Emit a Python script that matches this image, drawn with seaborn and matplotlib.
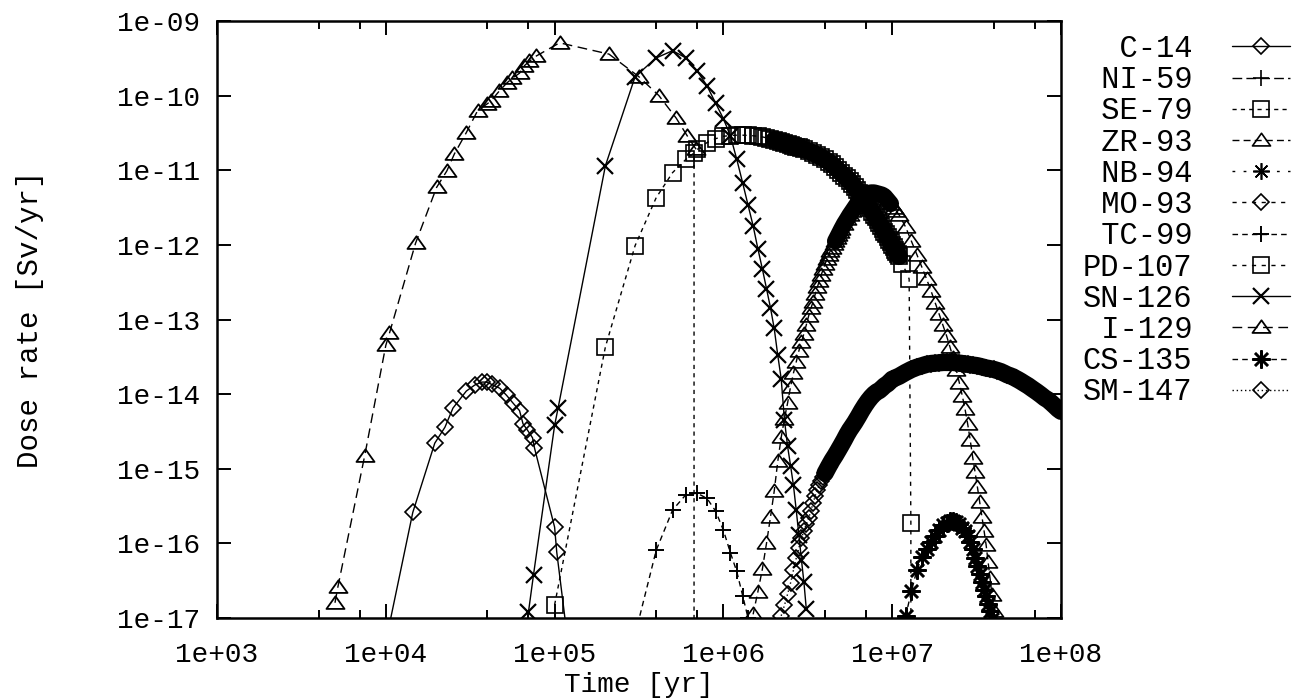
import matplotlib
matplotlib.use("Agg")
import matplotlib.pyplot as plt
import seaborn as sns
from matplotlib.lines import Line2D
from matplotlib.path import Path
from matplotlib.ticker import LogLocator, FuncFormatter, NullLocator, NullFormatter

# ---------------- data ----------------
names = ["C-14", "NI-59", "SE-79", "ZR-93", "NB-94", "MO-93",
         "TC-99", "PD-107", "SN-126", "I-129", "CS-135", "SM-147"]

c14_t = [1.0e4, 1.445e4, 1.95e4, 2.24e4, 2.5e4, 3.0e4, 3.36e4, 3.7e4, 3.96e4, 4.24e4,
         4.73e4, 5.2e4, 5.64e4, 6.2e4, 6.5e4, 6.9e4, 7.4e4, 7.6e4, 1.0e5, 1.03e5, 1.2e5]
c14_d = [4.8e-18, 2.6e-16, 2.2e-15, 3.6e-15, 6.5e-15, 1.1e-14, 1.32e-14, 1.45e-14, 1.45e-14, 1.35e-14,
         1.2e-14, 9.6e-15, 7.7e-15, 6.0e-15, 4.0e-15, 3.3e-15, 2.6e-15, 1.9e-15, 1.65e-16, 7.6e-17, 4.7e-18]

i129_t = [5.0e3, 5.2e3, 7.5e3, 1.0e4, 1.05e4, 1.5e4, 2.0e4, 2.3e4, 2.55e4, 3.0e4, 3.5e4, 4.0e4,
          4.2e4, 4.7e4, 5.2e4, 5.6e4, 6.2e4, 6.6e4, 7.1e4, 7.8e4, 1.07e5, 2.1e5, 3.15e5, 4.15e5,
          5.25e5, 6.1e5, 6.9e5]
i129_d = [1.6e-17, 2.6e-17, 1.5e-15, 4.5e-14, 6.5e-14, 1.05e-12, 5.9e-12, 9.8e-12, 1.66e-11, 3.2e-11,
          6.3e-11, 7.8e-11, 8.5e-11, 1.15e-10, 1.47e-10, 1.7e-10, 2.0e-10, 2.5e-10, 2.9e-10, 3.4e-10,
          5.1e-10, 3.6e-10, 1.8e-10, 1.0e-10, 5.0e-11, 2.9e-11, 1.9e-11]

sn126_t = [7.0e4, 7.5e4, 1.0e5, 1.05e5, 2.0e5, 3.0e5, 4.0e5, 5.0e5, 6.0e5, 7.0e5, 8.0e5, 9.0e5,
           1.0e6, 1.1e6, 1.2e6, 1.3e6, 1.4e6, 1.5e6, 1.6e6, 1.7e6, 1.8e6, 1.9e6, 2.0e6, 2.1e6,
           2.2e6, 2.3e6, 2.4e6, 2.5e6, 2.6e6, 2.7e6, 2.8e6, 2.9e6, 3.0e6, 3.1e6]
sn126_d = [1.2e-17, 3.8e-17, 3.8e-15, 6.6e-15, 1.15e-11, 1.8e-10, 3.2e-10, 4.0e-10, 3.2e-10, 2.14e-10,
           1.35e-10, 7.9e-11, 4.9e-11, 2.9e-11, 1.4e-11, 6.8e-12, 3.4e-12, 1.8e-12, 8.9e-13, 4.8e-13,
           2.6e-13, 1.44e-13, 7.6e-14, 3.3e-14, 1.6e-14, 4.5e-15, 2.0e-15, 1.1e-15, 6.0e-16, 2.8e-16,
           1.3e-16, 6.0e-17, 3.0e-17, 1.3e-17]

se79_t = [1.0e5, 2.0e5, 3.0e5, 4.0e5, 5.0e5, 6.0e5, 6.7e5, 6.7e5]
se79_d = [1.5e-17, 4.3e-14, 9.8e-13, 4.3e-12, 9.3e-12, 1.4e-11, 1.7e-11, 1.0e-19]

tc99_t = [3.0e5, 4.0e5, 5.0e5, 6.0e5, 7.0e5, 8.0e5, 9.0e5, 1.0e6, 1.1e6, 1.2e6, 1.3e6, 1.4e6]
tc99_d = [6.0e-18, 8.1e-17, 2.8e-16, 4.5e-16, 4.7e-16, 4.0e-16, 2.7e-16, 1.5e-16, 7.5e-17, 4.2e-17,
          2.0e-17, 1.0e-17]

pd107_t = [7.0e5, 8.0e5, 9.0e5,
           1.0e6, 1.1e6, 1.2e6, 1.3e6, 1.4e6, 1.5e6, 1.6e6, 1.7e6, 1.8e6, 1.9e6, 2.0e6,
           2.1e6, 2.2e6, 2.3e6, 2.4e6, 2.5e6, 2.6e6, 2.7e6, 2.8e6, 2.9e6, 3.0e6,
           3.2e6, 3.4e6, 3.6e6, 3.8e6, 4.0e6, 4.2e6, 4.4e6, 4.6e6, 4.8e6, 5.0e6,
           5.2e6, 5.4e6, 5.6e6, 5.8e6, 6.0e6, 6.2e6, 6.4e6, 6.6e6, 6.8e6, 7.0e6,
           7.2e6, 7.4e6, 7.6e6, 7.8e6, 8.0e6, 8.2e6, 8.4e6, 8.6e6, 8.8e6, 9.0e6,
           9.2e6, 9.4e6, 9.6e6, 9.8e6, 1.0e7,
           1.02e7, 1.04e7, 1.06e7, 1.08e7, 1.1e7, 1.15e7, 1.26e7, 1.29e7, 1.29e7]
pd107_d = [1.9e-11, 2.35e-11, 2.65e-11,
           2.85e-11, 2.92e-11, 2.95e-11, 2.95e-11, 2.93e-11, 2.9e-11, 2.85e-11, 2.8e-11, 2.72e-11,
           2.64e-11, 2.56e-11, 2.48e-11, 2.4e-11, 2.33e-11, 2.26e-11, 2.2e-11, 2.14e-11, 2.08e-11,
           2.02e-11, 1.96e-11, 1.9e-11,
           1.8e-11, 1.7e-11, 1.6e-11, 1.5e-11, 1.4e-11, 1.3e-11, 1.2e-11, 1.1e-11, 1.0e-11, 9.2e-12,
           8.4e-12, 7.8e-12, 7.2e-12, 6.5e-12, 5.9e-12, 5.4e-12, 4.9e-12, 4.4e-12, 4.0e-12, 3.7e-12,
           3.4e-12, 3.1e-12, 2.8e-12, 2.55e-12, 2.35e-12, 2.15e-12, 1.95e-12, 1.8e-12, 1.65e-12,
           1.5e-12, 1.38e-12, 1.27e-12, 1.17e-12, 1.08e-12, 1.0e-12,
           9.3e-13, 8.6e-13, 8.0e-13, 7.5e-13, 7.0e-13, 5.6e-13, 3.5e-13, 1.9e-16, 1.0e-19]

zr93_t = [1.5e6, 1.6e6, 1.7e6, 1.8e6, 1.9e6, 2.0e6, 2.1e6, 2.2e6, 2.3e6, 2.4e6, 2.5e6, 2.6e6,
          2.7e6, 2.8e6, 2.9e6, 3.0e6, 3.1e6, 3.2e6, 3.3e6, 3.4e6, 3.5e6, 3.6e6, 3.7e6, 3.8e6,
          3.9e6, 4.0e6, 4.1e6, 4.2e6, 4.3e6, 4.4e6, 4.5e6, 4.6e6, 4.7e6, 4.8e6, 4.9e6, 5.0e6,
          5.2e6, 5.4e6, 5.6e6, 5.8e6, 6.0e6, 6.3e6, 6.6e6, 6.9e6, 7.2e6, 7.5e6, 7.8e6, 8.1e6,
          8.4e6, 8.7e6, 9.0e6, 9.4e6, 9.8e6, 1.02e7, 1.06e7, 1.1e7,
          1.2e7, 1.3e7, 1.4e7, 1.5e7, 1.6e7, 1.7e7, 1.8e7, 1.9e7, 2.0e7, 2.1e7, 2.2e7, 2.3e7,
          2.4e7, 2.5e7, 2.6e7, 2.7e7, 2.8e7, 2.9e7, 3.0e7, 3.1e7, 3.2e7, 3.3e7, 3.4e7, 3.5e7,
          3.6e7, 3.7e7, 3.8e7, 3.9e7, 4.0e7, 4.1e7]
zr93_d = [1.12e-17, 2.24e-17, 4.47e-17, 1.0e-16, 2.24e-16, 5.01e-16, 1.26e-15, 2.63e-15, 4.68e-15,
          7.59e-15, 1.26e-14, 1.91e-14, 2.69e-14, 3.80e-14, 5.01e-14, 6.46e-14, 8.51e-14, 1.12e-13,
          1.41e-13, 1.74e-13, 2.19e-13, 2.69e-13, 3.31e-13, 3.98e-13, 4.68e-13, 5.50e-13, 6.46e-13,
          7.41e-13, 8.32e-13, 9.12e-13, 1.02e-12, 1.12e-12, 1.23e-12, 1.35e-12, 1.48e-12, 1.62e-12,
          1.91e-12, 2.19e-12, 2.51e-12, 2.82e-12, 3.16e-12, 3.72e-12, 4.17e-12, 4.57e-12, 4.90e-12,
          5.01e-12, 5.01e-12, 4.90e-12, 4.79e-12, 4.68e-12, 4.47e-12, 3.98e-12, 3.55e-12, 3.16e-12,
          2.82e-12, 2.51e-12,
          1.74e-12, 1.12e-12, 7.41e-13, 5.01e-13, 3.47e-13, 2.40e-13, 1.66e-13, 1.17e-13, 8.32e-14,
          6.03e-14, 4.27e-14, 3.02e-14, 2.09e-14, 1.41e-14, 9.55e-15, 6.31e-15, 3.98e-15, 2.40e-15,
          1.41e-15, 8.91e-16, 5.62e-16, 3.55e-16, 2.29e-16, 1.48e-16, 9.55e-17, 5.62e-17, 3.39e-17,
          2.04e-17, 1.26e-17, 7.94e-18]

sm147_t = [2.2e6, 2.3e6, 2.4e6, 2.5e6, 2.6e6, 2.7e6, 2.8e6, 2.9e6, 3.0e6, 3.1e6, 3.2e6, 3.3e6,
           3.4e6, 3.5e6, 3.6e6, 3.7e6, 3.8e6, 3.9e6, 4.0e6,
           4.2e6, 4.4e6, 4.6e6, 4.8e6, 5.0e6, 5.2e6, 5.4e6, 5.6e6, 5.8e6, 6.0e6,
           6.3e6, 6.6e6, 6.9e6, 7.2e6, 7.5e6, 7.8e6, 8.1e6, 8.4e6, 8.7e6, 9.0e6, 9.4e6, 9.8e6,
           1.0e7, 1.1e7, 1.2e7, 1.3e7, 1.4e7, 1.5e7, 1.6e7, 1.7e7, 1.8e7, 1.9e7, 2.0e7, 2.1e7,
           2.2e7, 2.3e7, 2.4e7, 2.5e7, 2.6e7, 2.7e7, 2.8e7, 2.9e7, 3.0e7,
           3.2e7, 3.4e7, 3.6e7, 3.8e7, 4.0e7, 4.2e7, 4.4e7, 4.6e7, 4.8e7, 5.0e7, 5.2e7, 5.4e7,
           5.6e7, 5.8e7, 6.0e7,
           6.4e7, 6.8e7, 7.2e7, 7.6e7, 8.0e7, 8.4e7, 8.8e7, 9.2e7, 9.6e7, 1.0e8]
sm147_d = [1.07e-17, 1.48e-17, 2.09e-17, 2.95e-17, 4.37e-17, 6.31e-17, 8.71e-17, 1.17e-16, 1.48e-16,
           1.82e-16, 2.19e-16, 2.75e-16, 3.47e-16, 4.37e-16, 5.25e-16, 6.03e-16, 6.92e-16, 7.76e-16,
           8.71e-16,
           1.07e-15, 1.29e-15, 1.51e-15, 1.78e-15, 2.09e-15, 2.45e-15, 2.88e-15, 3.31e-15, 3.72e-15,
           4.17e-15,
           5.01e-15, 6.03e-15, 7.08e-15, 8.13e-15, 9.12e-15, 1.0e-14, 1.07e-14, 1.12e-14, 1.2e-14,
           1.29e-14, 1.38e-14, 1.51e-14,
           1.58e-14, 1.74e-14, 1.95e-14, 2.14e-14, 2.29e-14, 2.40e-14, 2.51e-14, 2.57e-14, 2.60e-14,
           2.63e-14, 2.66e-14, 2.66e-14, 2.66e-14, 2.66e-14, 2.63e-14, 2.60e-14, 2.57e-14, 2.54e-14,
           2.51e-14, 2.48e-14, 2.45e-14,
           2.40e-14, 2.32e-14, 2.24e-14, 2.19e-14, 2.14e-14, 2.07e-14, 2.0e-14, 1.91e-14, 1.82e-14,
           1.76e-14, 1.70e-14, 1.62e-14, 1.55e-14, 1.48e-14, 1.41e-14,
           1.29e-14, 1.17e-14, 1.07e-14, 9.77e-15, 8.91e-15, 8.32e-15, 7.59e-15, 6.92e-15, 6.31e-15,
           5.89e-15]

cs135_t = [1.2e7, 1.3e7, 1.4e7, 1.5e7, 1.6e7, 1.7e7, 1.8e7, 1.9e7, 2.0e7, 2.1e7, 2.2e7, 2.3e7,
           2.4e7, 2.5e7, 2.6e7, 2.7e7, 2.8e7, 2.9e7, 3.0e7, 3.1e7, 3.2e7, 3.3e7, 3.4e7, 3.5e7,
           3.6e7, 3.7e7, 3.8e7, 3.9e7]
cs135_d = [1.05e-17, 2.29e-17, 4.37e-17, 6.61e-17, 8.51e-17, 1.05e-16, 1.26e-16, 1.51e-16, 1.74e-16,
           1.86e-16, 1.97e-16, 2.0e-16, 1.93e-16, 1.80e-16, 1.62e-16, 1.45e-16, 1.26e-16, 1.05e-16,
           8.32e-17, 6.46e-17, 5.01e-17, 3.89e-17, 3.02e-17, 2.40e-17, 1.95e-17, 1.55e-17, 1.23e-17,
           9.77e-18]

x_ticks = [1e3, 1e4, 1e5, 1e6, 1e7, 1e8]
y_ticks = [1e-17, 1e-16, 1e-15, 1e-14, 1e-13, 1e-12, 1e-11, 1e-10, 1e-9]

series = {
    "C-14": (c14_t, c14_d), "SE-79": (se79_t, se79_d), "ZR-93": (zr93_t, zr93_d),
    "TC-99": (tc99_t, tc99_d), "PD-107": (pd107_t, pd107_d), "SN-126": (sn126_t, sn126_d),
    "I-129": (i129_t, i129_d), "CS-135": (cs135_t, cs135_d), "SM-147": (sm147_t, sm147_d),
}

# ---------------- style ----------------
sns.set_theme(style="ticks")
plt.rcParams.update({
    "text.color": "black", "axes.labelcolor": "black",
    "xtick.color": "black", "ytick.color": "black",
    "axes.edgecolor": "black", "figure.facecolor": "white", "axes.facecolor": "white",
})
plt.rcParams["font.family"] = ["Liberation Mono", "DejaVu Sans Mono"]

TRI = Path([(0, 0.8), (-1, -0.6), (1, -0.6), (0, 0.8)],
           [Path.MOVETO, Path.LINETO, Path.LINETO, Path.CLOSEPOLY])
AST = (8, 2, 0)

styles = {
    "C-14":   dict(marker="D", ms=8.5, mew=1.2, ls="-", lw=1.0),
    "NI-59":  dict(marker="+", ms=11, mew=1.2, ls=(0, (7, 3)), lw=1.0),
    "SE-79":  dict(marker="s", ms=11, mew=1.2, ls=(0, (3, 3)), lw=1.0),
    "ZR-93":  dict(marker=TRI, ms=13, mew=1.2, ls=(0, (5, 3)), lw=1.0),
    "NB-94":  dict(marker=AST, ms=12, mew=1.2, ls=(0, (2, 6)), lw=1.0),
    "MO-93":  dict(marker="D", ms=8.5, mew=1.2, ls=(0, (3, 4)), lw=1.0),
    "TC-99":  dict(marker="+", ms=11, mew=1.4, ls=(0, (4, 3)), lw=1.0),
    "PD-107": dict(marker="s", ms=11, mew=1.2, ls=(0, (3, 4)), lw=1.0),
    "SN-126": dict(marker="x", ms=11, mew=1.6, ls="-", lw=1.0),
    "I-129":  dict(marker=TRI, ms=13, mew=1.3, ls=(0, (7, 4)), lw=1.0),
    "CS-135": dict(marker=AST, ms=13, mew=1.8, ls=(0, (4, 3)), lw=1.0),
    "SM-147": dict(marker="D", ms=8.5, mew=1.2, ls=(0, (1, 2)), lw=1.0),
}
# where overlapping markers merge into a solid black band (time ranges, band width in pt)
bands = {
    "PD-107": (2.0e6, 1.1e7, 12.5),
    "ZR-93": (4.6e6, 9.8e6, 12.0),
    "SM-147": (4.0e6, 1.0e8, 12.5),
}

fig = plt.figure(figsize=(12.92, 6.99), dpi=100)
L, R, T, B = 217, 1061, 21, 618
ax = fig.add_axes([L / 1292, 1 - B / 699, (R - L) / 1292, (B - T) / 699])
ax.set_xscale("log")
ax.set_yscale("log")

for name in names:
    if name not in series:
        continue
    t, d = series[name]
    st = styles[name]
    sns.lineplot(x=t, y=d, ax=ax, estimator=None, sort=False, errorbar=None,
                 color="black", marker=st["marker"], markersize=st["ms"],
                 markerfacecolor="none", markeredgecolor="black",
                 markeredgewidth=st["mew"], linestyle=st["ls"], linewidth=st["lw"],
                 legend=False)
    if name in bands:
        lo, hi, w = bands[name]
        bt = [a for a, b in zip(t, d) if lo <= a <= hi]
        bd = [b for a, b in zip(t, d) if lo <= a <= hi]
        sns.lineplot(x=bt, y=bd, ax=ax, estimator=None, sort=False, errorbar=None,
                     color="black", linewidth=w, solid_capstyle="round",
                     solid_joinstyle="round", legend=False)

ax.set_xlim(1e3, 1e8)
ax.set_ylim(1e-17, 1e-9)
ax.set_xticks(x_ticks)
ax.set_yticks(y_ticks)
ax.xaxis.set_minor_locator(LogLocator(base=10, subs=(4.0, 7.0), numticks=20))
ax.xaxis.set_minor_formatter(NullFormatter())
ax.yaxis.set_minor_locator(NullLocator())
fmt = FuncFormatter(lambda v, p: f"{v:.0e}")
ax.xaxis.set_major_formatter(fmt)
ax.yaxis.set_major_formatter(fmt)

ax.tick_params(axis="both", which="major", direction="in", length=10, width=1.4,
               top=True, right=True, bottom=True, left=True, labelsize=20)
ax.tick_params(axis="both", which="minor", direction="in", length=5.5, width=1.4,
               top=True, right=True, bottom=True, left=True)
ax.tick_params(axis="x", which="major", pad=17)
ax.tick_params(axis="y", which="major", pad=12)
for s in ax.spines.values():
    s.set_visible(True)
    s.set_linewidth(1.8)
    s.set_color("black")

ax.set_xlabel("Time [yr]", fontsize=20)
ax.set_ylabel("Dose rate [Sv/yr]", fontsize=21)
ax.xaxis.set_label_coords(0.5, -0.09)
ax.yaxis.set_label_coords(-0.205, 0.5)

handles = []
for name in names:
    st = styles[name]
    handles.append(Line2D([], [], color="black", marker=st["marker"], markersize=st["ms"],
                          markerfacecolor="none", markeredgecolor="black",
                          markeredgewidth=st["mew"], linestyle=st["ls"], linewidth=st["lw"]))
labels = [f"{n:>6}" for n in names]
fig.legend(handles, labels, loc="upper right", bbox_to_anchor=(1290 / 1292, 1 - 34 / 699),
           bbox_transform=fig.transFigure, frameon=False, markerfirst=False, numpoints=1,
           handlelength=1.9, handletextpad=1.3, labelspacing=0.04, borderpad=0,
           borderaxespad=0, prop={"family": "Liberation Mono", "size": 22})

fig.savefig("out.png", dpi=100, facecolor="white")
